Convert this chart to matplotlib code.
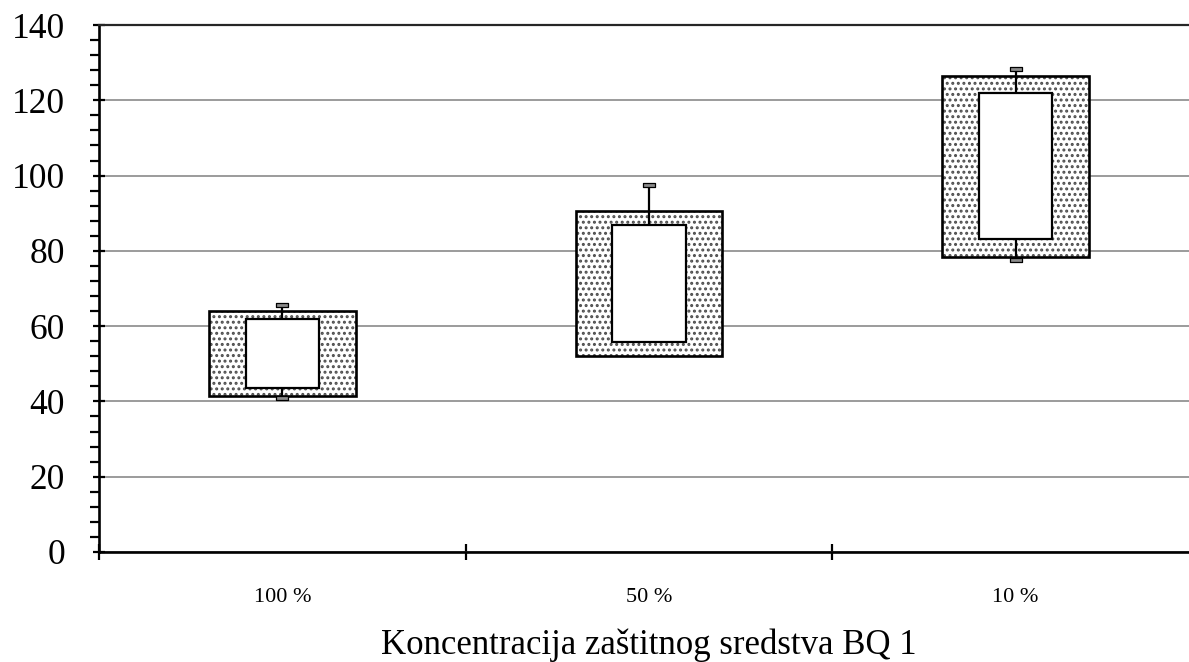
import numpy as np
import matplotlib
matplotlib.use("Agg")
import matplotlib.pyplot as plt
from matplotlib.path import Path
from matplotlib.ticker import MultipleLocator

categories = ["100 %", "50 %", "10 %"]
outer_low = [41.4, 52.2, 78.3]
outer_high = [64.1, 90.7, 126.5]
inner_low = [43.6, 55.9, 83.2]
inner_high = [61.8, 87.0, 122.0]
whisk_high = [65.6, 97.4, 128.4]
whisk_low = [40.8, np.nan, 77.6]
xlabel = "Koncentracija zaštitnog sredstva BQ 1"

plt.rcParams['font.family'] = ['Liberation Serif', 'DejaVu Serif']
plt.rcParams['hatch.linewidth'] = 1.4

fig = plt.figure(figsize=(11.89, 6.62), dpi=100)
ax = fig.add_axes([99/1189, 1-552/662, 1100/1189, 527/662])

x = np.arange(len(categories)) + 0.5
ol = np.array(outer_low); oh = np.array(outer_high)
il = np.array(inner_low); ih = np.array(inner_high)

ax.set_ylim(0, 140)
ax.set_xlim(0, 3)
ax.yaxis.set_major_locator(MultipleLocator(20))
ax.yaxis.set_minor_locator(MultipleLocator(4))
ax.grid(axis='y', which='major', color='0.5', lw=1.1, zorder=0)
ax.set_axisbelow(True)

# outer box: hatched fill then black outline
ax.bar(x, oh - ol, bottom=ol, width=0.4, color='white', edgecolor='0.3',
       hatch='...', lw=0, zorder=2)
ax.bar(x, oh - ol, bottom=ol, width=0.4, fill=False, edgecolor='black',
       lw=1.9, zorder=3)
# inner box
ax.bar(x, ih - il, bottom=il, width=0.2, color='white', edgecolor='black',
       lw=1.6, zorder=4)

# whiskers
cap = Path([(-1.5, -0.45), (1.5, -0.45), (1.5, 0.45), (-1.5, 0.45), (-1.5, -0.45)],
           [Path.MOVETO, Path.LINETO, Path.LINETO, Path.LINETO, Path.CLOSEPOLY])
for xi, lo_in, hi_in, wl, wh in zip(x, il, ih, whisk_low, whisk_high):
    if not np.isnan(wh):
        ax.plot([xi, xi], [hi_in, wh], color='black', lw=1.6, zorder=5,
                solid_capstyle='butt')
        ax.plot([xi], [wh], marker=cap, ms=9, mfc='0.55', mec='black', mew=0.9,
                zorder=6)
    if not np.isnan(wl):
        ax.plot([xi, xi], [wl, lo_in], color='black', lw=1.6, zorder=5,
                solid_capstyle='butt')
        ax.plot([xi], [wl], marker=cap, ms=9, mfc='0.55', mec='black', mew=0.9,
                zorder=6)

ax.spines['right'].set_visible(False)
ax.spines['top'].set_color('0.15')
ax.spines['top'].set_linewidth(1.6)
ax.spines['left'].set_linewidth(1.9)
ax.spines['bottom'].set_linewidth(1.9)

ax.set_xticks([0, 1, 2])
ax.set_xticklabels([])
ax.set_xticks(x, minor=True)
ax.set_xticklabels(categories, minor=True, fontsize=16)
ax.tick_params(axis='x', which='major', direction='inout', length=11, width=1.6)
ax.tick_params(axis='x', which='minor', length=0, pad=26)
ax.tick_params(axis='y', which='major', direction='inout', length=9, width=1.6,
               labelsize=25.5, pad=20)
ax.tick_params(axis='y', which='minor', direction='out', length=6.5, width=1.6)

ax.set_xlabel(xlabel, fontsize=25)
ax.xaxis.set_label_coords((649 - 99) / 1100, -0.176)
ax.xaxis.label.set_va('center')

fig.savefig("out.png", dpi=100)
